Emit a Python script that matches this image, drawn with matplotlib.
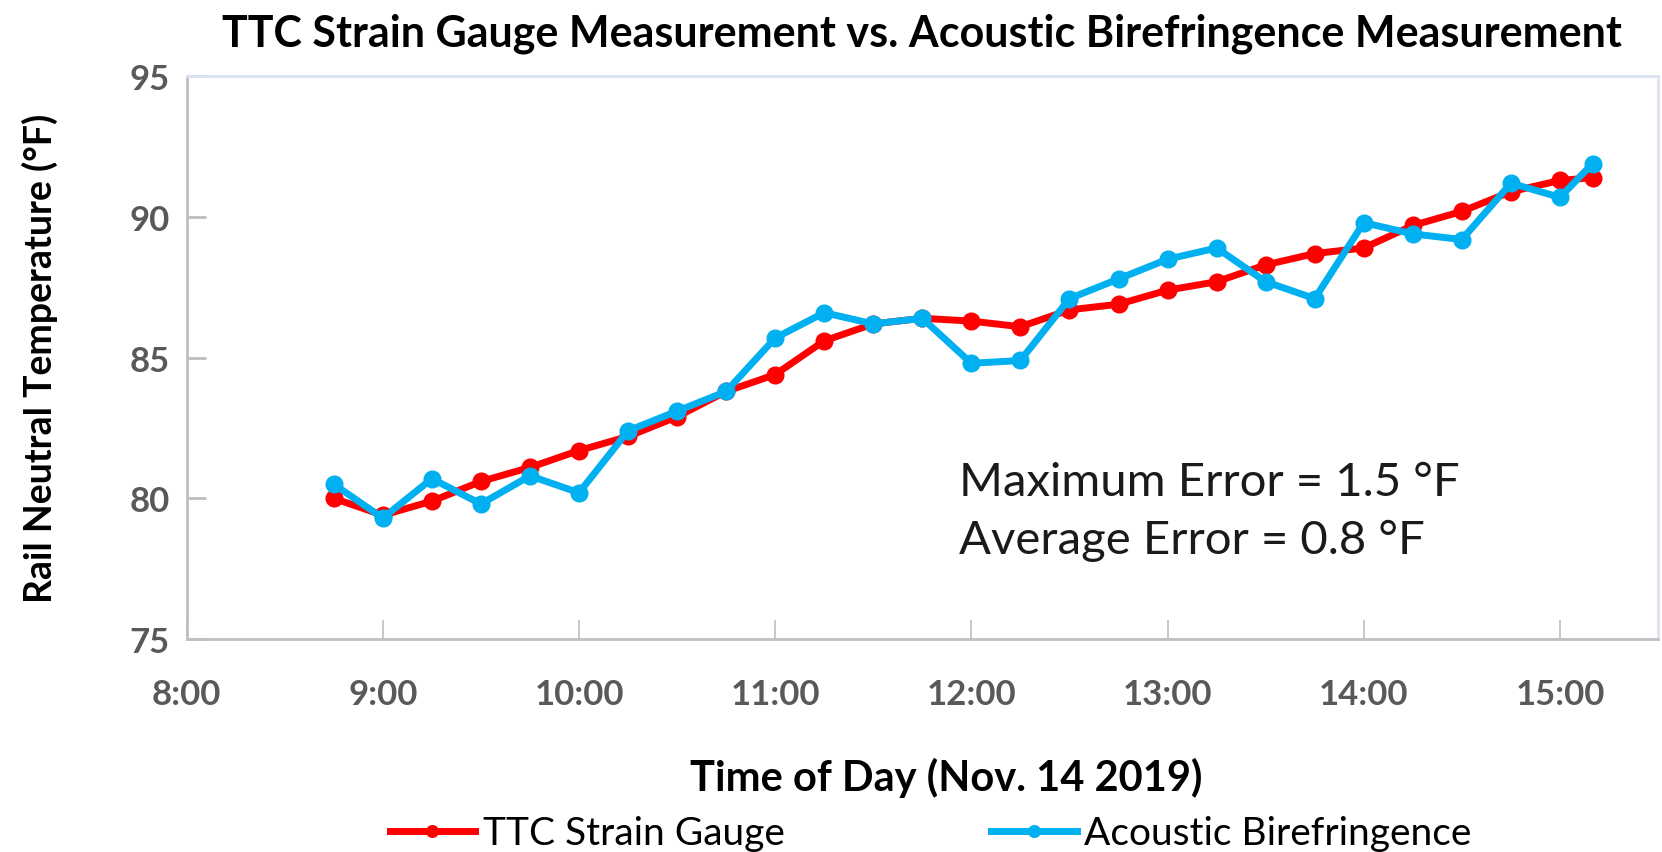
import matplotlib
matplotlib.use("Agg")
import matplotlib.pyplot as plt

# readings every 15 min, Nov 14 2019
times = ["8:45", "9:00", "9:15", "9:30", "9:45", "10:00", "10:15", "10:30", "10:45",
         "11:00", "11:15", "11:30", "11:45", "12:00", "12:15", "12:30", "12:45",
         "13:00", "13:15", "13:30", "13:45", "14:00", "14:15", "14:30", "14:45",
         "15:00", "15:10"]
strain_gauge = [80.0, 79.4, 79.9, 80.6, 81.1, 81.7, 82.2, 82.9, 83.8,
                84.4, 85.6, 86.2, 86.4, 86.3, 86.1, 86.7, 86.9,
                87.4, 87.7, 88.3, 88.7, 88.9, 89.7, 90.2, 90.9,
                91.3, 91.4]
acoustic = [80.5, 79.3, 80.7, 79.8, 80.8, 80.2, 82.4, 83.1, 83.8,
            85.7, 86.6, 86.2, 86.4, 84.8, 84.9, 87.1, 87.8,
            88.5, 88.9, 87.7, 87.1, 89.8, 89.4, 89.2, 91.2,
            90.7, 91.9]
hour_ticks = [8, 9, 10, 11, 12, 13, 14, 15]
hour_labels = ["8:00", "9:00", "10:00", "11:00", "12:00", "13:00", "14:00", "15:00"]
y_ticks = [75, 80, 85, 90, 95]


def to_hours(t):
    h, m = t.split(":")
    return int(h) + int(m) / 60.0


x = [to_hours(t) for t in times]

plt.rcParams['font.family'] = ['Lato', 'DejaVu Sans']

fig = plt.figure(figsize=(16.62, 8.53), dpi=100)
ax = fig.add_axes([0.1123, 0.2497, 0.8853, 0.6596])

ax.plot(x, strain_gauge, color='#FF0000', lw=5, marker='o', ms=12,
        label='TTC Strain Gauge')
ax.plot(x, acoustic, color='#00B0F0', lw=5, marker='o', ms=12,
        label='Acoustic Birefringence')

ax.set_xlim(8, 15.5)
ax.set_ylim(75, 95)
ax.set_xticks(hour_ticks)
ax.set_xticklabels(hour_labels)
ax.set_yticks(y_ticks)

for s in ['left', 'bottom']:
    ax.spines[s].set_color('#BFBFBF')
    ax.spines[s].set_linewidth(2)
for s in ['top', 'right']:
    ax.spines[s].set_color('#DAE3F3')
    ax.spines[s].set_linewidth(2)

ax.tick_params(axis='x', direction='in', length=14, width=1.2, color='#BFBFBF',
               pad=28, labelsize=25, labelcolor='#595959')
ax.tick_params(axis='y', direction='in', length=14, width=2, color='#BFBFBF',
               pad=12, labelsize=25, labelcolor='#595959')
for lbl in ax.get_xticklabels() + ax.get_yticklabels():
    lbl.set_fontweight('bold')

ax.set_title('TTC Strain Gauge Measurement vs. Acoustic Birefringence Measurement',
             fontsize=31, fontweight='bold', pad=22)
ax.set_ylabel('Rail Neutral Temperature (°F)', fontsize=27, fontweight='bold', labelpad=52)
ax.set_xlabel('Time of Day (Nov. 14 2019)', fontsize=30, fontweight='bold',
              labelpad=34, x=0.516)

ax.text(0.525, 0.228, 'Maximum Error = 1.5 °F\nAverage Error = 0.8 °F',
        transform=ax.transAxes, fontsize=34, color='#1a1a1a',
        va='center', ha='left', linespacing=1.45)

fig.legend(loc='center', bbox_to_anchor=(0.56, 0.022), ncol=2, frameon=False,
           fontsize=28, columnspacing=5.3, handlelength=2.2, handletextpad=0.2,
           markerscale=0.7)

fig.savefig('out.png', dpi=100)
